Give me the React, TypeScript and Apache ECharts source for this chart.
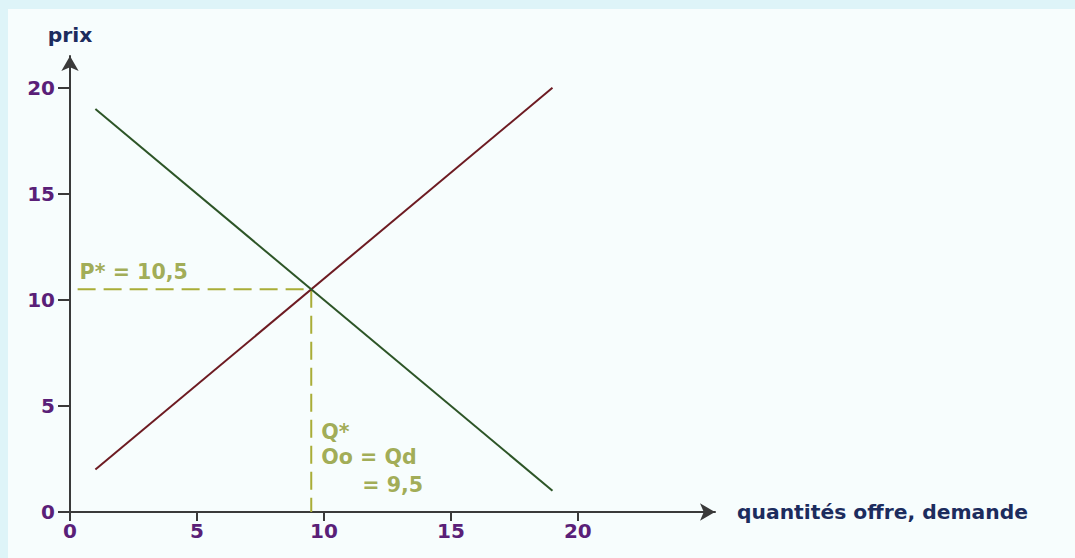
import React, { useEffect, useRef } from "react";
import * as echarts from "echarts";

const xTicks = [0, 5, 10, 15, 20];
const yTicks = [0, 5, 10, 15, 20];
const supply = [
  [1, 2],
  [19, 20],
];
const demand = [
  [1, 19],
  [19, 1],
];
const qStar = 9.5;
const pStar = 10.5;
const dashStartX = 0.3;
const xMax = 25.4;
const yMax = 21.5;

const FONT = "'DejaVu Sans', Verdana, sans-serif";
const TICK_COLOR = "#5a1f78";
const NAME_COLOR = "#1c2c5e";
const OLIVE = "#a9ad37";
const OLIVE_TEXT = "#8b972a";
const AXIS_COLOR = "#3a3a3a";

export default function App() {
  const ref = useRef<HTMLDivElement>(null);
  useEffect(() => {
    if (!ref.current) return;
    const chart = echarts.init(ref.current, undefined, { renderer: "svg" });
    const textStyle = (color: string, size = 19) => ({
      color,
      fontFamily: FONT,
      fontWeight: "bold" as const,
      fontSize: size,
    });
    chart.setOption({
      animation: false,
      backgroundColor: "#def4f8",
      graphic: [
        {
          type: "rect",
          z: -10,
          shape: { x: 8, y: 9, width: 1075, height: 560 },
          style: { fill: "#f7fdfd" },
        },
      ],
      grid: { left: 70, top: 56, width: 645, height: 456, containLabel: false },
      xAxis: {
        type: "value",
        min: 0,
        max: xMax,
        name: "quantités offre, demande",
        nameLocation: "end",
        nameGap: 22,
        nameTextStyle: textStyle(NAME_COLOR, 20.3),
        axisLine: {
          show: true,
          symbol: ["none", "arrow"],
          symbolSize: [13, 15],
          lineStyle: { color: AXIS_COLOR, width: 2 },
        },
        axisTick: {
          show: true,
          length: 9,
          customValues: xTicks,
          lineStyle: { color: AXIS_COLOR, width: 2 },
        },
        axisLabel: {
          customValues: xTicks,
          margin: 9,
          ...textStyle(TICK_COLOR, 20),
        },
        splitLine: { show: false },
      },
      yAxis: {
        type: "value",
        min: 0,
        max: yMax,
        name: "prix",
        nameLocation: "end",
        nameGap: 11,
        nameTextStyle: { ...textStyle(NAME_COLOR, 20.3), align: "center" },
        axisLine: {
          show: true,
          symbol: ["none", "arrow"],
          symbolSize: [13, 15],
          lineStyle: { color: AXIS_COLOR, width: 2 },
        },
        axisTick: {
          show: true,
          length: 12,
          customValues: yTicks,
          lineStyle: { color: AXIS_COLOR, width: 2 },
        },
        axisLabel: {
          customValues: yTicks,
          margin: 15,
          ...textStyle(TICK_COLOR, 20),
        },
        splitLine: { show: false },
      },
      series: [
        {
          type: "line",
          data: [
            [dashStartX, pStar],
            [qStar, pStar],
            [qStar, 0],
          ],
          symbol: "none",
          lineStyle: { color: OLIVE, width: 2, type: [18, 8] },
          z: 1,
        },
        {
          type: "line",
          data: supply,
          symbol: "none",
          lineStyle: { color: "#6d1b22", width: 2 },
          z: 2,
        },
        {
          type: "line",
          data: demand,
          symbol: "none",
          lineStyle: { color: "#2d5527", width: 2 },
          z: 3,
        },
        {
          type: "scatter",
          symbolSize: 0,
          silent: true,
          data: [
            {
              value: [dashStartX, pStar],
              label: {
                show: true,
                formatter: "P* = 10,5",
                position: [2, -17],
                align: "left",
                verticalAlign: "middle",
                ...textStyle(OLIVE_TEXT, 20.6),
              },
            },
            {
              value: [qStar, 0],
              label: {
                show: true,
                formatter: "Q*",
                position: [10, -80],
                align: "left",
                verticalAlign: "middle",
                ...textStyle(OLIVE_TEXT, 20.6),
              },
            },
            {
              value: [qStar, 0],
              label: {
                show: true,
                formatter: "Oo = Qd",
                position: [10, -55],
                align: "left",
                verticalAlign: "middle",
                ...textStyle(OLIVE_TEXT, 20.6),
              },
            },
            {
              value: [qStar, 0],
              label: {
                show: true,
                formatter: "= 9,5",
                position: [51, -27],
                align: "left",
                verticalAlign: "middle",
                ...textStyle(OLIVE_TEXT, 20.6),
              },
            },
          ],
        },
      ],
    });
    return () => chart.dispose();
  }, []);
  return (
    <div
      ref={ref}
      style={{ position: "fixed", left: 0, top: 0, width: 1075, height: 558 }}
    />
  );
}
